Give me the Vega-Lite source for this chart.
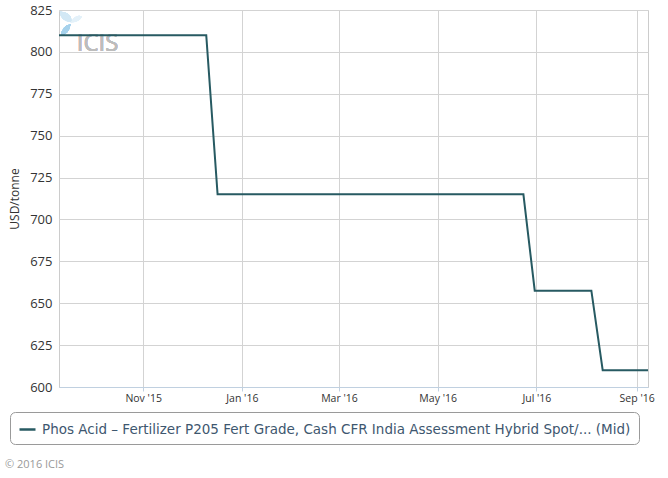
{
  "$schema": "https://vega.github.io/schema/vega-lite/v6.json",
  "width": 589,
  "height": 377,
  "autosize": "none",
  "padding": {"left": 59, "top": 10, "right": 20, "bottom": 91},
  "background": "white",
  "config": {
    "font": "Open Sans",
    "view": {"stroke": "#cccccc", "strokeWidth": 1},
    "axis": {"gridColor": "#d3d3d3", "gridWidth": 1, "labelColor": "#333333", "titleColor": "#333333", "labelFont": "Open Sans", "titleFont": "Open Sans"}
  },
  "title": {
    "text": "© 2016 ICIS",
    "orient": "bottom",
    "anchor": "start",
    "frame": "group",
    "dx": -54,
    "offset": 14,
    "fontSize": 11,
    "fontWeight": "normal",
    "color": "#999999",
    "font": "Open Sans"
  },
  "data": {
    "values": [
      {"date": "2015-09-10", "price": 810, "series": "Phos Acid – Fertilizer P205 Fert Grade, Cash CFR India Assessment Hybrid Spot/... (Mid)"},
      {"date": "2015-12-10", "price": 810, "series": "Phos Acid – Fertilizer P205 Fert Grade, Cash CFR India Assessment Hybrid Spot/... (Mid)"},
      {"date": "2015-12-17", "price": 715, "series": "Phos Acid – Fertilizer P205 Fert Grade, Cash CFR India Assessment Hybrid Spot/... (Mid)"},
      {"date": "2016-06-23", "price": 715, "series": "Phos Acid – Fertilizer P205 Fert Grade, Cash CFR India Assessment Hybrid Spot/... (Mid)"},
      {"date": "2016-06-30", "price": 657.5, "series": "Phos Acid – Fertilizer P205 Fert Grade, Cash CFR India Assessment Hybrid Spot/... (Mid)"},
      {"date": "2016-08-04", "price": 657.5, "series": "Phos Acid – Fertilizer P205 Fert Grade, Cash CFR India Assessment Hybrid Spot/... (Mid)"},
      {"date": "2016-08-11", "price": 610, "series": "Phos Acid – Fertilizer P205 Fert Grade, Cash CFR India Assessment Hybrid Spot/... (Mid)"},
      {"date": "2016-09-08", "price": 610, "series": "Phos Acid – Fertilizer P205 Fert Grade, Cash CFR India Assessment Hybrid Spot/... (Mid)"}
    ]
  },
  "layer": [
    {
      "mark": {"type": "point", "filled": true, "opacity": 1, "strokeWidth": 0, "color": "#d2e8f5", "size": 576, "shape": "M-0.85,-1 Q0.2,-0.9 0.1,-0.1 Q-0.8,-0.2 -0.85,-1 Z"},
      "encoding": {
        "x": {"datum": {"year": 2015, "month": 9, "date": 16, "hours": 20, "utc": true}, "type": "temporal"},
        "y": {"datum": 817, "type": "quantitative"}
      }
    },
    {
      "mark": {"type": "point", "filled": true, "opacity": 1, "strokeWidth": 0, "color": "#e4f1f9", "size": 576, "shape": "M0.1,-0.1 Q0.4,-0.8 1,-0.6 Q0.8,-0.1 0.1,-0.1 Z"},
      "encoding": {
        "x": {"datum": {"year": 2015, "month": 9, "date": 16, "hours": 20, "utc": true}, "type": "temporal"},
        "y": {"datum": 817, "type": "quantitative"}
      }
    },
    {
      "mark": {"type": "point", "filled": true, "opacity": 1, "strokeWidth": 0, "color": "#a6d2ec", "size": 576, "shape": "M0.05,0.05 Q-0.1,0.9 -0.7,1 Q-0.8,0.3 0.05,0.05 Z"},
      "encoding": {
        "x": {"datum": {"year": 2015, "month": 9, "date": 16, "hours": 20, "utc": true}, "type": "temporal"},
        "y": {"datum": 817, "type": "quantitative"}
      }
    },
    {
      "mark": {"type": "text", "text": "ICIS", "align": "left", "baseline": "middle", "fontSize": 24, "fontWeight": "normal", "color": "#bdbdbd", "font": "Open Sans"},
      "encoding": {
        "x": {"datum": {"year": 2015, "month": 9, "date": 21, "utc": true}, "type": "temporal"},
        "y": {"datum": 804.5, "type": "quantitative"}
      }
    },
    {
      "mark": {"type": "line", "strokeWidth": 2, "interpolate": "linear"},
      "encoding": {
        "x": {
          "field": "date",
          "type": "temporal",
          "scale": {"type": "utc", "domain": [{"year": 2015, "month": 9, "date": 10, "utc": true}, {"year": 2016, "month": 9, "date": 8, "utc": true}], "nice": false},
          "axis": {
            "title": null,
            "values": [
              {"year": 2015, "month": 11, "date": 1, "utc": true},
              {"year": 2016, "month": 1, "date": 1, "utc": true},
              {"year": 2016, "month": 3, "date": 1, "utc": true},
              {"year": 2016, "month": 5, "date": 1, "utc": true},
              {"year": 2016, "month": 7, "date": 1, "utc": true},
              {"year": 2016, "month": 9, "date": 1, "utc": true}
            ],
            "labelExpr": "utcFormat(datum.value, \"%b '%y\")",
            "labelFontSize": 10.5,
            "labelPadding": 2,
            "domainColor": "#c0d0e0",
            "domainWidth": 1,
            "tickColor": "#c0d0e0",
            "tickSize": 4,
            "grid": true
          }
        },
        "y": {
          "field": "price",
          "type": "quantitative",
          "scale": {"domain": [600, 825], "nice": false, "zero": false},
          "axis": {
            "title": "USD/tonne",
            "titleFontSize": 12,
            "titleFontWeight": "normal",
            "titlePadding": 8,
            "values": [600, 625, 650, 675, 700, 725, 750, 775, 800, 825],
            "labelFontSize": 13,
            "labelPadding": 7,
            "domain": false,
            "ticks": false,
            "grid": true
          }
        },
        "color": {
          "field": "series",
          "type": "nominal",
          "scale": {"range": ["#275a62"]},
          "legend": {
            "title": null,
            "orient": "none",
            "legendX": -49,
            "legendY": 402,
            "symbolType": "stroke",
            "symbolStrokeWidth": 2.5,
            "symbolSize": 256,
            "labelFontSize": 13.5,
            "labelFont": "DejaVu Sans",
            "labelColor": "#3e576f",
            "labelLimit": 800,
            "labelOffset": 5,
            "strokeColor": "#9a9a9a",
            "cornerRadius": 5,
            "padding": 8
          }
        }
      }
    }
  ]
}
